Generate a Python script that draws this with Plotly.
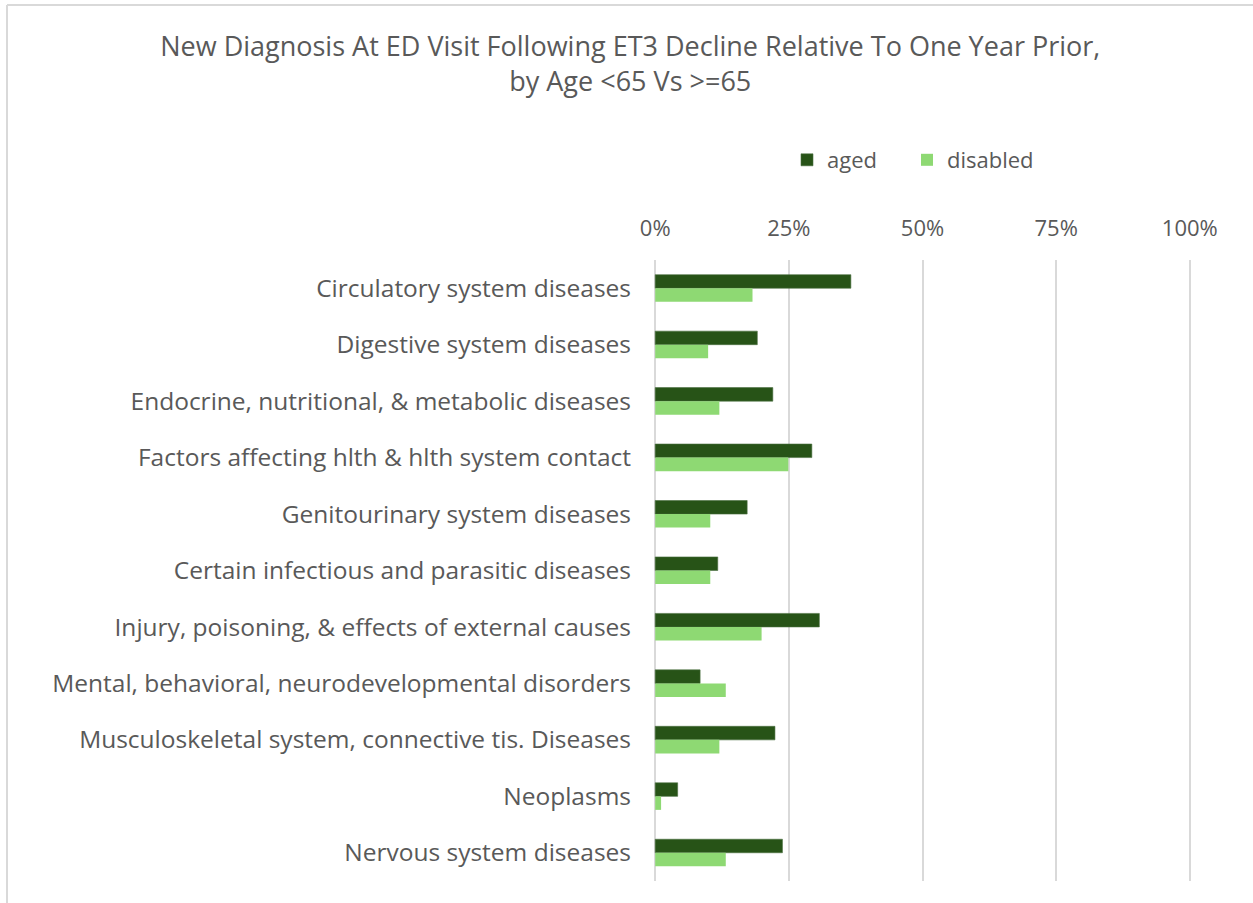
import plotly.graph_objects as go

categories = [
    "Circulatory system diseases",
    "Digestive system diseases",
    "Endocrine, nutritional, & metabolic diseases",
    "Factors affecting hlth & hlth system contact",
    "Genitourinary system diseases",
    "Certain infectious and parasitic diseases",
    "Injury, poisoning, & effects of external causes",
    "Mental, behavioral, neurodevelopmental disorders",
    "Musculoskeletal system, connective tis. Diseases",
    "Neoplasms",
    "Nervous system diseases",
]
aged = [0.366, 0.191, 0.220, 0.293, 0.172, 0.117, 0.307, 0.084, 0.224, 0.042, 0.238]
disabled = [0.182, 0.099, 0.120, 0.249, 0.103, 0.103, 0.199, 0.132, 0.120, 0.011, 0.132]
tick_vals = [0, 0.25, 0.5, 0.75, 1.0]
tick_text = ["0%", "25%", "50%", "75%", "100%"]

W, H = 1253, 903
L, R, T, B = 652, 1193, 260, 881
pad = 0.006

fig = go.Figure()
fig.add_trace(go.Bar(y=categories, x=aged, name="aged", orientation="h", legend="legend",
                     showlegend=True,
                     marker=dict(color="#275317", line=dict(color="#4a6e3f", width=0.6))))
fig.add_trace(go.Bar(y=categories, x=disabled, name="disabled", orientation="h", legend="legend2",
                     showlegend=True,
                     marker=dict(color="#8ED973", line=dict(width=0))))

font_fam = "Open Sans, Inter, Liberation Sans, sans-serif"
leg_common = dict(orientation="h", xanchor="left", yanchor="middle", visible=True,
                  y=(B - 160) / (B - T), itemwidth=30, bgcolor="rgba(0,0,0,0)",
                  font=dict(family=font_fam, size=22, color="#595959"))
fig.update_layout(
    width=W, height=H,
    margin=dict(l=L, r=W - R, t=T, b=H - B),
    paper_bgcolor="white", plot_bgcolor="white",
    showlegend=True,
    barmode="group", bargap=0.52, bargroupgap=0,
    title=dict(text="New Diagnosis At ED Visit Following ET3 Decline Relative To One Year Prior,<br>by Age <65 Vs >=65",
               x=0.503, xanchor="center", y=1 - 56 / H, yanchor="middle",
               font=dict(family=font_fam, size=27, color="#595959")),
    legend=dict(x=(787 - L) / (R - L), **leg_common),
    legend2=dict(x=(907 - L) / (R - L), **leg_common),
    font=dict(family=font_fam, color="#595959"),
    xaxis=dict(side="top", range=[-pad, 1.0 + pad], tickvals=tick_vals, ticktext=tick_text,
               showgrid=True, gridcolor="#D9D9D9", gridwidth=2, zeroline=False,
               showline=False, ticks="", ticklabelstandoff=19,
               tickfont=dict(family=font_fam, size=22, color="#595959")),
    yaxis=dict(autorange="reversed", showgrid=False, zeroline=False, showline=False,
               ticks="", ticklabelstandoff=20,
               tickfont=dict(family=font_fam, size=24.5, color="#595959")),
    shapes=[
        dict(type="line", xref="paper", yref="paper",
             x0=(7 - L) / (R - L), x1=(7 - L) / (R - L), y0=-1, y1=(B - 5) / (B - T),
             line=dict(color="#D9D9D9", width=2)),
        dict(type="line", xref="paper", yref="paper",
             x0=(7 - L) / (R - L), x1=(1260 - L) / (R - L), y0=(B - 5) / (B - T), y1=(B - 5) / (B - T),
             line=dict(color="#D9D9D9", width=2)),
    ],
)
fig.write_html("out.html")
